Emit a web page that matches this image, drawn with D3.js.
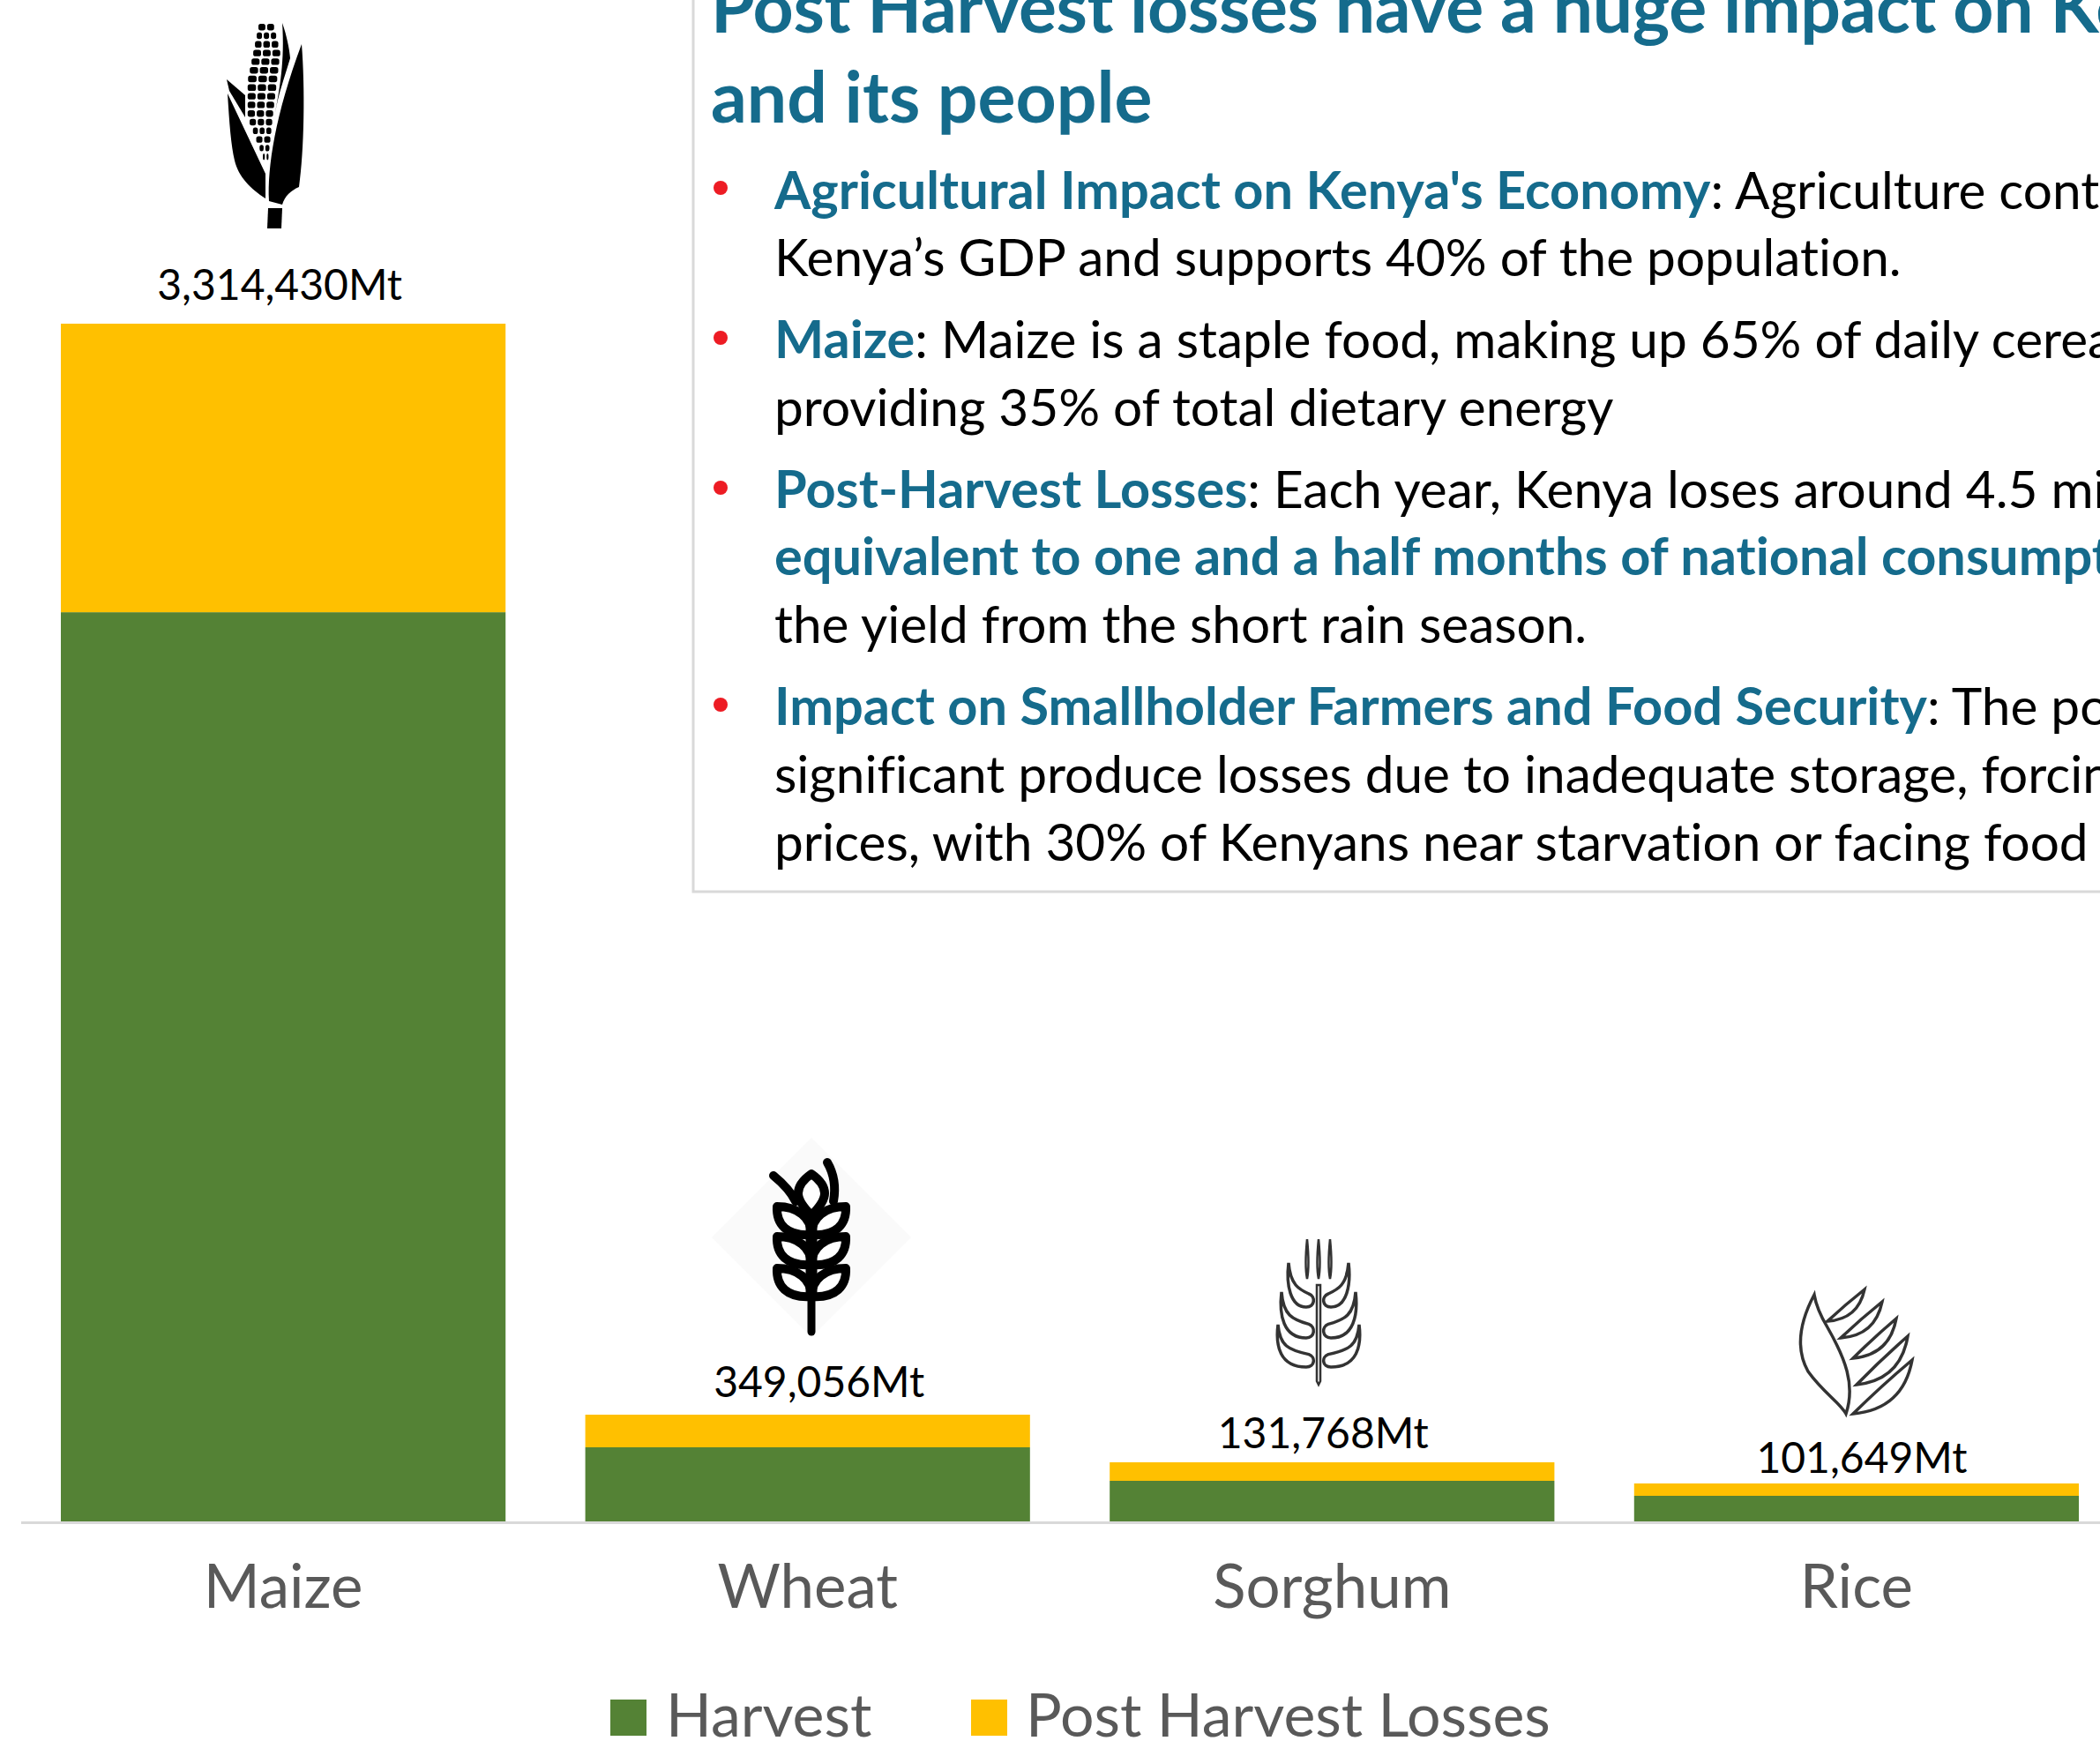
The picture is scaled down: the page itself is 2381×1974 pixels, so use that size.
<!DOCTYPE html>
<html>
<head>
<meta charset="utf-8">
<script src="https://cdn.jsdelivr.net/npm/d3@7"></script>
<style>
  html, body { margin: 0; padding: 0; background: #fff; overflow: hidden; }
  svg { display: block; font-family: Lato, "Open Sans", sans-serif; font-variant-ligatures: none; }
</style>
</head>
<body>
<div id="chart"></div>
<script>
const categories = ['Maize', 'Wheat', 'Sorghum', 'Rice'];
const harvest = [2516000, 205000, 112300, 70800];
const losses = [798430, 90300, 51200, 34200];
const totalLabels = [3314430, 349056, 131768, 101649];
const seriesNames = ['Harvest', 'Post Harvest Losses'];

const titleLines = ['Post Harvest losses have a huge impact on Kenya', 'and its people'];
const bodyLines = [
    [['Agricultural Impact on Kenya\'s Economy', 1], [': Agriculture contributes', 0]],
    [['Kenya\u2019s GDP and supports 40% of the population.', 0]],
    [['Maize', 1], [': Maize is a staple food, making up 65% of daily cereal', 0]],
    [['providing 35% of total dietary energy', 0]],
    [['Post-Harvest Losses', 1], [': Each year, Kenya loses around 4.5 million', 0]],
    [['equivalent to one and a half months of national consumption', 1]],
    [['the yield from the short rain season.', 0]],
    [['Impact on Smallholder Farmers and Food Security', 1], [': The po', 0]],
    [['significant produce losses due to inadequate storage, forcing', 0]],
    [['prices, with 30% of Kenyans near starvation or facing food', 0]]
];

const width = 2381;
const height = 1974;
const baseY = 1725;
const green = '#548235';
const amber = '#ffc000';
const blue = '#156b8c';
const grey = '#595959';
const rule = '#d9d9d9';

const svg = d3.select('#chart').append('svg')
    .attr('width', width)
    .attr('height', height)
    .attr('viewBox', [0, 0, width, height]);

const x = d3.scaleBand()
    .domain(categories)
    .range([69, 2357])
    .paddingInner(0.152);

const y = d3.scaleLinear()
    .domain([0, d3.sum([harvest[0], losses[0]])])
    .range([baseY, 367]);

// stacked bars
const rows = categories.map((c, i) => ({ category: c, harvest: harvest[i], losses: losses[i], label: totalLabels[i] }));
const stacked = d3.stack().keys(['harvest', 'losses'])(rows);
const color = d3.scaleOrdinal().domain(['harvest', 'losses']).range([green, amber]);

svg.append('g').selectAll('g')
    .data(stacked)
    .join('g')
    .attr('fill', d => color(d.key))
    .selectAll('rect')
    .data(d => d)
    .join('rect')
    .attr('x', d => x(d.data.category))
    .attr('y', d => y(d[1]))
    .attr('width', x.bandwidth())
    .attr('height', d => y(d[0]) - y(d[1]));

// axis
const axis = svg.append('g')
    .attr('transform', 'translate(0,' + baseY + ')')
    .call(d3.axisBottom(x).tickSize(0).tickPadding(49));
axis.select('.domain').remove();
axis.selectAll('text')
    .attr('fill', grey)
    .style('font-size', '69px')
    .style('font-family', 'Lato, sans-serif');
svg.append('line')
    .attr('x1', 24).attr('x2', width)
    .attr('y1', baseY + 1.5).attr('y2', baseY + 1.5)
    .attr('stroke', rule).attr('stroke-width', 3);

// labels above the bars, nudged as in the original
const labelNudge = [[-4, -27], [13, -20], [-10, -16], [6, -12]];
svg.append('g').selectAll('text')
    .data(rows)
    .join('text')
    .attr('x', d => x(d.category) + x.bandwidth() / 2)
    .attr('y', d => y(d.harvest + d.losses))
    .attr('dx', (d, i) => labelNudge[i][0])
    .attr('dy', (d, i) => labelNudge[i][1])
    .attr('text-anchor', 'middle')
    .attr('fill', '#000')
    .style('font-size', '48px')
    .text(d => d3.format(',')(d.label) + 'Mt');

// legend
const legend = svg.append('g');
[[692, 755], [1101, 1163]].forEach((p, i) => {
    legend.append('rect')
        .attr('x', p[0]).attr('y', 1927)
        .attr('width', 41).attr('height', 41)
        .attr('fill', i === 0 ? green : amber);
    legend.append('text')
        .attr('x', p[1]).attr('y', 1969)
        .attr('fill', grey)
        .style('font-size', '68px')
        .text(seriesNames[i]);
});

// text box
svg.append('path')
    .attr('d', 'M786,0V1011H' + width)
    .attr('fill', 'none')
    .attr('stroke', rule)
    .attr('stroke-width', 3);

const titleBase = [37, 139];
svg.append('g').selectAll('text')
    .data(titleLines)
    .join('text')
    .attr('x', 806)
    .attr('y', (d, i) => titleBase[i])
    .attr('fill', blue)
    .style('font-size', '80.5px')
    .style('font-weight', 700)
    .style('letter-spacing', (d, i) => i === 0 ? '-0.36px' : null)
    .text(d => d);

const bodyBase = [237, 313, 406, 483, 576, 652, 729, 822, 899, 976];
const body = svg.append('g').style('font-size', '58.5px');
bodyLines.forEach((runs, i) => {
    const t = body.append('text').attr('x', 878).attr('y', bodyBase[i]);
    runs.forEach(r => {
        t.append('tspan')
            .attr('fill', r[1] ? blue : '#000')
            .style('font-weight', r[1] ? 700 : 400)
            .style('font-size', r[1] ? '59.5px' : null)
            .text(r[0]);
    });
});

svg.append('g').selectAll('circle')
    .data([213, 383, 553, 799])
    .join('circle')
    .attr('cx', 817)
    .attr('cy', d => d)
    .attr('r', 8)
    .attr('fill', '#ed1c24');

// crop icons
const icons = svg.append('g');

// maize
const maize = icons.append('g').attr('fill', '#000');
const cobLeft = d3.scaleLinear().domain([27, 92, 133, 193]).range([293, 280, 280, 303]);
const cobRight = d3.scaleLinear().domain([27, 60, 128, 184, 193]).range([311, 319, 311, 305, 303]);
d3.range(17).forEach(r => {
    const cy = 31 + r * 9.8;
    const l = cobLeft(cy);
    const w = cobRight(cy) - l;
    const cols = w > 20 ? 3 : 2;
    d3.range(cols).forEach(c => {
        maize.append('rect')
            .attr('x', l + c * w / cols + 0.8)
            .attr('y', cy - 4)
            .attr('width', w / cols - 2)
            .attr('height', 7.4)
            .attr('rx', 2.6);
    });
});
maize.append('path').attr('d', 'M342,50C346,100 345,170 339,212C330,216 323,222 320,232L305,228C303,190 312,130 342,50Z');
maize.append('path').attr('d', 'M320,26C325,40 328,55 329,66C322,90 316,105 312,128C317,100 323,70 320,26Z');
maize.append('path').attr('d', 'M258,106C260,140 262,165 266,182C270,200 285,215 301,225L301,197Z');
maize.append('path').attr('d', 'M257,90L278,108L278,133L260,103Z');
maize.append('path').attr('d', 'M304,236H320L319,259H303Z');

// wheat
icons.append('path')
    .attr('d', 'M920,1290L1033,1403L920,1516L807,1403Z')
    .attr('fill', '#fafafa');
const wheat = icons.append('g')
    .attr('fill', '#fff')
    .attr('stroke', '#000')
    .attr('stroke-width', 10)
    .attr('stroke-linecap', 'round')
    .attr('stroke-linejoin', 'round');
wheat.append('path').attr('d', 'M877,1333C888,1342 897,1352 902,1362').attr('fill', 'none');
wheat.append('path').attr('d', 'M938,1318C945,1330 948,1345 945,1362').attr('fill', 'none');
wheat.append('path').attr('d', 'M920,1331C910,1338 905,1345 905,1353C905,1361 912,1370 920,1378C928,1370 935,1361 935,1353C935,1345 930,1338 920,1331Z');
[1400, 1434, 1470].forEach(j => {
    [-1, 1].forEach(s => {
        wheat.append('path')
            .attr('transform', 'translate(920,' + j + ') scale(' + s + ',1)')
            .attr('d', 'M0,0C-28,2 -40,-12 -39,-32C-16,-32 0,-20 0,0Z');
    });
});
wheat.append('path').attr('d', 'M920,1385V1510').attr('fill', 'none').attr('stroke-width', 9);
wheat.append('path').attr('d', 'M920,1385V1470').attr('fill', 'none').attr('stroke-width', 13);

// sorghum
const sorghum = icons.append('g')
    .attr('fill', 'none')
    .attr('stroke', '#333')
    .attr('stroke-width', 3.5);
[1482, 1495, 1508].forEach(ax => {
    sorghum.append('path')
        .attr('stroke-width', 2.5)
        .attr('d', 'M' + ax + ',1405C' + (ax - 2) + ',1425 ' + (ax - 2) + ',1440 ' + ax + ',1450C' + (ax + 2) + ',1440 ' + (ax + 2) + ',1425 ' + ax + ',1405');
});
sorghum.append('path').attr('stroke-width', 2.5).attr('d', 'M1493,1457V1566L1495,1570L1497,1566V1457Z');
[[1432, -34, 50], [1465, -42, 52], [1502, -46, 48]].forEach(g => {
    const t = g[1];
    const h = g[2];
    [-1, 1].forEach(s => {
        sorghum.append('path')
            .attr('transform', 'translate(1495,' + g[0] + ') scale(' + s + ',1)')
            .attr('d', 'M' + t + ',0C' + (t - 3) + ',' + (h * 0.5) + ' ' + (t + 2) + ',' + h + ' -14,' + h + 'C-4,' + h + ' -3,' + (h * 0.76) + ' -11,' + (h * 0.7) + 'C' + (t + 12) + ',' + (h * 0.6) + ' ' + (t + 2) + ',' + (h * 0.5) + ' ' + t + ',0Z');
    });
});

// rice
const rice = icons.append('g')
    .attr('fill', 'none')
    .attr('stroke', '#333')
    .attr('stroke-width', 3.5)
    .attr('stroke-linejoin', 'miter');
rice.append('path').attr('d', 'M2057,1468C2040,1500 2036,1530 2050,1555C2068,1580 2086,1590 2093,1603C2104,1570 2092,1540 2072,1505C2063,1490 2059,1480 2057,1468Z');
[[2072, 1498, 2114, 1462], [2087, 1517, 2134, 1476], [2101, 1540, 2150, 1495], [2105, 1570, 2163, 1515], [2101, 1603, 2168, 1542]].forEach(l => {
    const dx = l[2] - l[0];
    const dy = l[3] - l[1];
    const mx = l[0] + dx * 0.5;
    const my = l[1] + dy * 0.5;
    rice.append('path').attr('d', 'M' + l[0] + ',' + l[1]
        + 'Q' + (mx - dy * 0.38) + ',' + (my + dx * 0.38) + ' ' + l[2] + ',' + l[3]
        + 'Q' + (mx + dy * 0.02) + ',' + (my - dx * 0.02) + ' ' + l[0] + ',' + l[1] + 'Z');
});
</script>
</body>
</html>
